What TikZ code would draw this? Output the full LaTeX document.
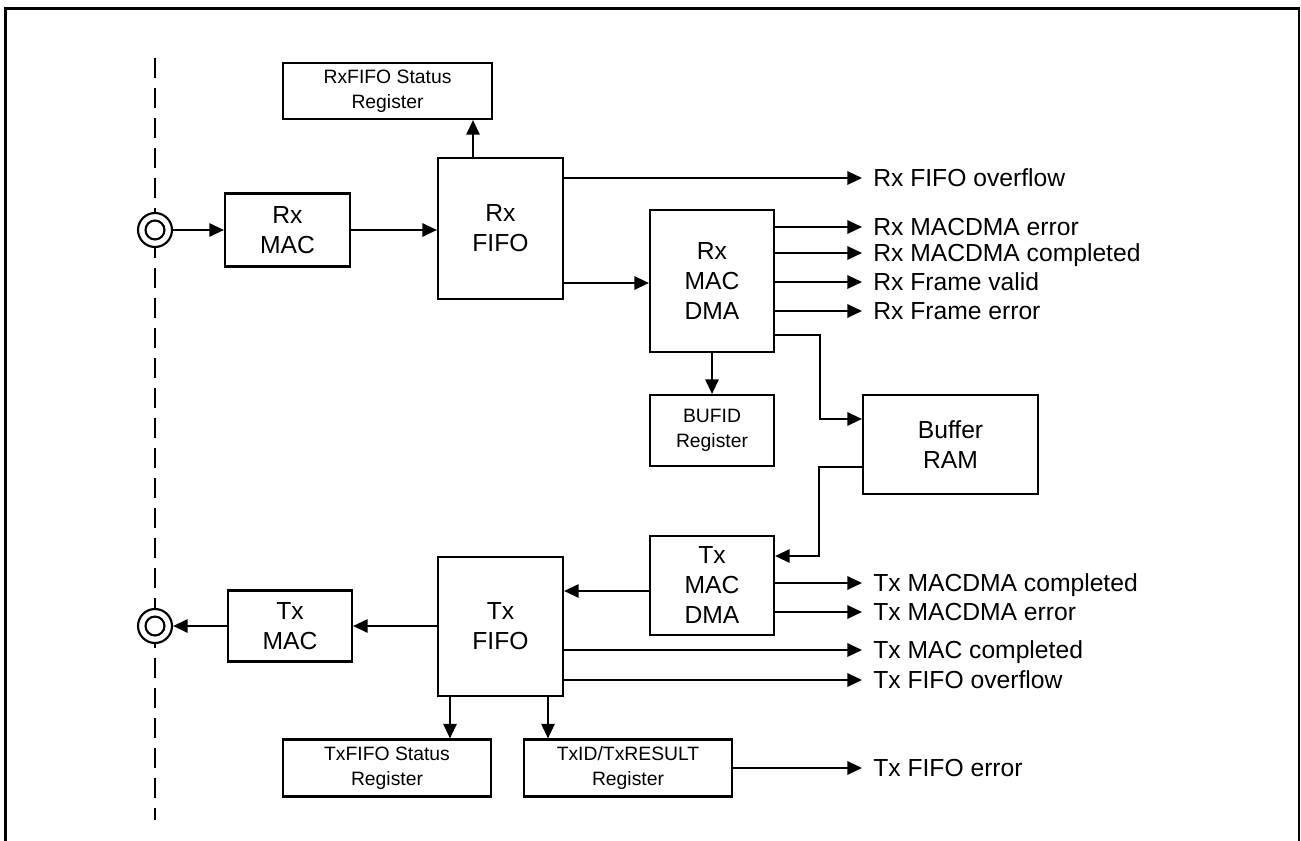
\documentclass[tikz,border=0pt]{standalone}
\usepackage{fontspec}
\setmainfont{Liberation Sans}
\usetikzlibrary{arrows.meta}
\begin{document}
\begin{tikzpicture}[x=0.75pt,y=-0.75pt,
 box/.style={draw, line width=1.6pt, inner sep=0pt, align=center, font=\fontsize{18.5}{22.5}\selectfont},
 regbox/.style={box, font=\fontsize{14.5}{19}\selectfont},
 conn/.style={line width=1.6pt, -{Triangle[length=11pt,width=10pt]}},
 lbl/.style={anchor=base west, inner sep=0pt, font=\fontsize{18.5}{22}\selectfont},
 port/.style={circle, draw, fill=white, line width=1.6pt, minimum size=25.5pt, inner sep=0pt},
 ]
\useasboundingbox (0,0) rectangle (1301,841);
% frame
\draw[line width=1.8pt] (5.5,841) -- (5.5,8.5) -- (1299,8.5) -- (1299,841);
% dashed boundary
\draw[line width=1.6pt, dash pattern=on 15pt off 7.5pt] (155,58) -- (155,820);

% ports
\node[port] (rxport) at (155,230) {};
\draw[line width=1.6pt] (rxport.center) circle[radius=7.1pt];
\node[port] (txport) at (155,626) {};
\draw[line width=1.6pt] (txport.center) circle[radius=7.1pt];

% boxes
\node[box, minimum width=93.75pt, minimum height=54.75pt] (rxmac) at (287.5,230) {Rx\\MAC};
\node[box, minimum width=93.75pt, minimum height=105.75pt] (rxfifo) at (500.5,228.5) {Rx\\FIFO};
\node[regbox, minimum width=156.75pt, minimum height=42pt] (rxstat) at (387.5,91) {RxFIFO Status\\Register};
\node[box, minimum width=93pt, minimum height=106.5pt] (rxdma) at (712,281) {Rx\\MAC\\DMA};
\node[regbox, minimum width=93pt, minimum height=53.25pt] (bufid) at (712,430.5) {BUFID\\Register};
\node[box, minimum width=131.25pt, minimum height=74.25pt] (bufram) at (950.5,444.5) {Buffer\\RAM};
\node[box, minimum width=93pt, minimum height=74.25pt] (txdma) at (712,585.5) {Tx\\MAC\\DMA};
\node[box, minimum width=93.75pt, minimum height=104.25pt] (txfifo) at (500.5,626.5) {Tx\\FIFO};
\node[box, minimum width=93pt, minimum height=53.25pt] (txmac) at (290,626) {Tx\\MAC};
\node[regbox, minimum width=156pt, minimum height=42.75pt] (txstat) at (387,768) {TxFIFO Status\\Register};
\node[regbox, minimum width=156pt, minimum height=42.75pt] (txid) at (628,768) {TxID/TxRESULT\\Register};

% helper coordinates
\coordinate (ovf) at (862,178);
\coordinate (d1) at (862,227);
\coordinate (d2) at (862,253);
\coordinate (d3) at (862,282);
\coordinate (d4) at (862,311);
\coordinate (c5) at (820,335);
\coordinate (bin) at (863,419);
\coordinate (bout) at (819,467);
\coordinate (tin) at (0,556);
\coordinate (e1) at (862,583);
\coordinate (e2) at (862,612);
\coordinate (ty) at (0,591);
\coordinate (f1) at (862,650);
\coordinate (f2) at (862,680);
\coordinate (g1) at (862,768);
\coordinate (ya) at (0,283);
\coordinate (sx) at (473,0);
\coordinate (s1) at (450,0);
\coordinate (s2) at (548,0);

% Rx path
\draw[conn] (rxport.east) -- (rxmac.west);
\draw[conn] (rxmac.east) -- (rxfifo.west |- rxmac.east);
\draw[conn] (rxfifo.north -| sx) -- (rxstat.south -| sx);
\draw[conn] (rxfifo.east |- ovf) -- (ovf);
\draw[conn] (rxfifo.east |- ya) -- (rxdma.west |- ya);
\draw[conn] (rxdma.east |- d1) -- (d1);
\draw[conn] (rxdma.east |- d2) -- (d2);
\draw[conn] (rxdma.east |- d3) -- (d3);
\draw[conn] (rxdma.east |- d4) -- (d4);
\draw[conn] (rxdma.south) -- (bufid.north);
\draw[conn] (rxdma.east |- c5) -- (c5) -- (c5 |- bin) -- (bufram.west |- bin);
% Tx path
\draw[conn] (bufram.west |- bout) -- (bout) -- (bout |- tin) -- (txdma.east |- tin);
\draw[conn] (txdma.east |- e1) -- (e1);
\draw[conn] (txdma.east |- e2) -- (e2);
\draw[conn] (txdma.west |- ty) -- (txfifo.east |- ty);
\draw[conn] (txfifo.west |- txmac.east) -- (txmac.east);
\draw[conn] (txmac.west) -- (txport.east);
\draw[conn] (txfifo.east |- f1) -- (f1);
\draw[conn] (txfifo.east |- f2) -- (f2);
\draw[conn] (txfifo.south -| s1) -- (txstat.north -| s1);
\draw[conn] (txfifo.south -| s2) -- (txid.north -| s2);
\draw[conn] (txid.east) -- (g1);

% labels
\node[lbl] (lovf) at ([xshift=8.25pt,yshift=-6.6pt]ovf) {Rx FIFO overflow};
\node[lbl] (ld1) at ([xshift=8.25pt,yshift=-6.6pt]d1) {Rx MACDMA error};
\node[lbl] (ld2) at ([xshift=8.25pt,yshift=-6.6pt]d2) {Rx MACDMA completed};
\node[lbl] (ld3) at ([xshift=8.25pt,yshift=-6.6pt]d3) {Rx Frame valid};
\node[lbl] (ld4) at ([xshift=8.25pt,yshift=-6.6pt]d4) {Rx Frame error};
\node[lbl] (le1) at ([xshift=8.25pt,yshift=-6.6pt]e1) {Tx MACDMA completed};
\node[lbl] (le2) at ([xshift=8.25pt,yshift=-6.6pt]e2) {Tx MACDMA error};
\node[lbl] (lf1) at ([xshift=8.25pt,yshift=-6.6pt]f1) {Tx MAC completed};
\node[lbl] (lf2) at ([xshift=8.25pt,yshift=-6.6pt]f2) {Tx FIFO overflow};
\node[lbl] (lg1) at ([xshift=8.25pt,yshift=-6.6pt]g1) {Tx FIFO error};
\end{tikzpicture}
\end{document}
